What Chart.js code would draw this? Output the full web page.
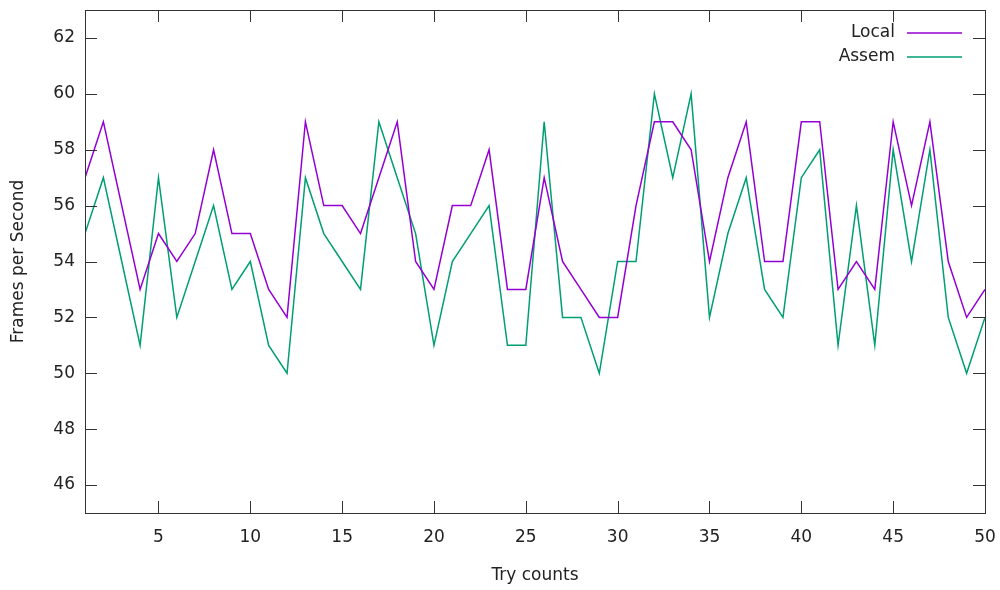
<!DOCTYPE html>
<html>
<head>
<meta charset="utf-8">
<script src="https://cdn.jsdelivr.net/npm/chart.js@4/dist/chart.umd.min.js"></script>
<style>
  html, body { margin: 0; padding: 0; background: #fff; }
  #wrap { width: 1000px; height: 590px; }
</style>
</head>
<body>
<div id="wrap"><canvas id="fps"></canvas></div>
<script>
// try number 1..50
const tries = [];
for (let i = 1; i <= 50; i++) tries.push(i);

const localFps = [57, 59, 56, 53, 55, 54, 55, 58, 55, 55,
                  53, 52, 59, 56, 56, 55, 57, 59, 54, 53,
                  56, 56, 58, 53, 53, 57, 54, 53, 52, 52,
                  56, 59, 59, 58, 54, 57, 59, 54, 54, 59,
                  59, 53, 54, 53, 59, 56, 59, 54, 52, 53];

const assemFps = [55, 57, 54, 51, 57, 52, 54, 56, 53, 54,
                  51, 50, 57, 55, 54, 53, 59, 57, 55, 51,
                  54, 55, 56, 51, 51, 59, 52, 52, 50, 54,
                  54, 60, 57, 60, 52, 55, 57, 53, 52, 57,
                  58, 51, 56, 51, 58, 54, 58, 52, 50, 52];

const xTicks = [5, 10, 15, 20, 25, 30, 35, 40, 45, 50];
const yTicks = [46, 48, 50, 52, 54, 56, 58, 60, 62];

const FONT = {family: 'DejaVu Sans', size: 17};
const TEXT = '#222';
const FRAME = '#333';

// gnuplot style box with inward ticks + legend top right
const frameBox = {
  id: 'frameBox',
  afterDatasetsDraw(chart) {
    const ctx = chart.ctx
    const a = chart.chartArea
    const x = chart.scales.x, y = chart.scales.y
    const tl = 12
    ctx.save()
    ctx.strokeStyle = FRAME
    ctx.lineWidth = 1
    ctx.beginPath()
    xTicks.forEach(v => {
      const px = Math.round(x.getPixelForValue(v)) + 0.5
      ctx.moveTo(px, a.bottom); ctx.lineTo(px, a.bottom - tl)
      ctx.moveTo(px, a.top); ctx.lineTo(px, a.top + tl)
    })
    yTicks.forEach(v => {
      const py = Math.round(y.getPixelForValue(v)) + 0.5
      ctx.moveTo(a.left, py); ctx.lineTo(a.left + tl, py)
      ctx.moveTo(a.right, py); ctx.lineTo(a.right - tl, py)
    })
    ctx.stroke()
    ctx.strokeRect(Math.round(a.left) + 0.5, Math.round(a.top) + 0.5,
                   Math.round(a.right - a.left), Math.round(a.bottom - a.top))

    // legend
    ctx.font = FONT.size + 'px ' + FONT.family
    ctx.textAlign = 'right'
    ctx.textBaseline = 'middle'
    chart.data.datasets.forEach((ds, i) => {
      const ly = a.top + 23 + i * 24
      ctx.fillStyle = TEXT
      ctx.fillText(ds.label, a.right - 90, ly)
      ctx.strokeStyle = ds.borderColor
      ctx.lineWidth = 1.5
      ctx.beginPath()
      ctx.moveTo(a.right - 78, ly)
      ctx.lineTo(a.right - 23, ly)
      ctx.stroke()
    })
    ctx.restore()
  }
};

new Chart('fps', {
  type: 'line',
  data: {
    labels: tries,
    datasets: [
      {label: 'Local', data: localFps, borderColor: '#9400d3', borderWidth: 1.5,
       pointRadius: 0, tension: 0, fill: false},
      {label: 'Assem', data: assemFps, borderColor: '#009e73', borderWidth: 1.5,
       pointRadius: 0, tension: 0, fill: false}
    ]
  },
  options: {
    responsive: true,
    maintainAspectRatio: false,
    animation: false,
    layout: {padding: {left: 0, right: 15, top: 10, bottom: 0}},
    plugins: {legend: {display: false}, tooltip: {enabled: false}},
    scales: {
      x: {
        type: 'linear',
        min: 1, max: 50,
        afterBuildTicks: s => { s.ticks = xTicks.map(v => ({value: v})) },
        afterFit: s => { s.height = 77; s.paddingLeft = 0; s.paddingRight = 0 },
        grid: {display: false, drawTicks: false},
        border: {display: false},
        ticks: {font: FONT, color: TEXT, padding: 14, maxRotation: 0, autoSkip: false},
        title: {display: true, text: 'Try counts', font: FONT, color: TEXT, padding: {top: 5}}
      },
      y: {
        min: 45, max: 63,
        afterBuildTicks: s => { s.ticks = yTicks.map(v => ({value: v})) },
        afterFit: s => { s.width = 85; s.paddingTop = 0; s.paddingBottom = 0 },
        grid: {display: false, drawTicks: false},
        border: {display: false},
        ticks: {font: FONT, color: TEXT, padding: 10},
        title: {display: true, text: 'Frames per Second', font: FONT, color: TEXT, padding: {top: 8}}
      }
    }
  },
  plugins: [frameBox]
});
</script>
</body>
</html>
